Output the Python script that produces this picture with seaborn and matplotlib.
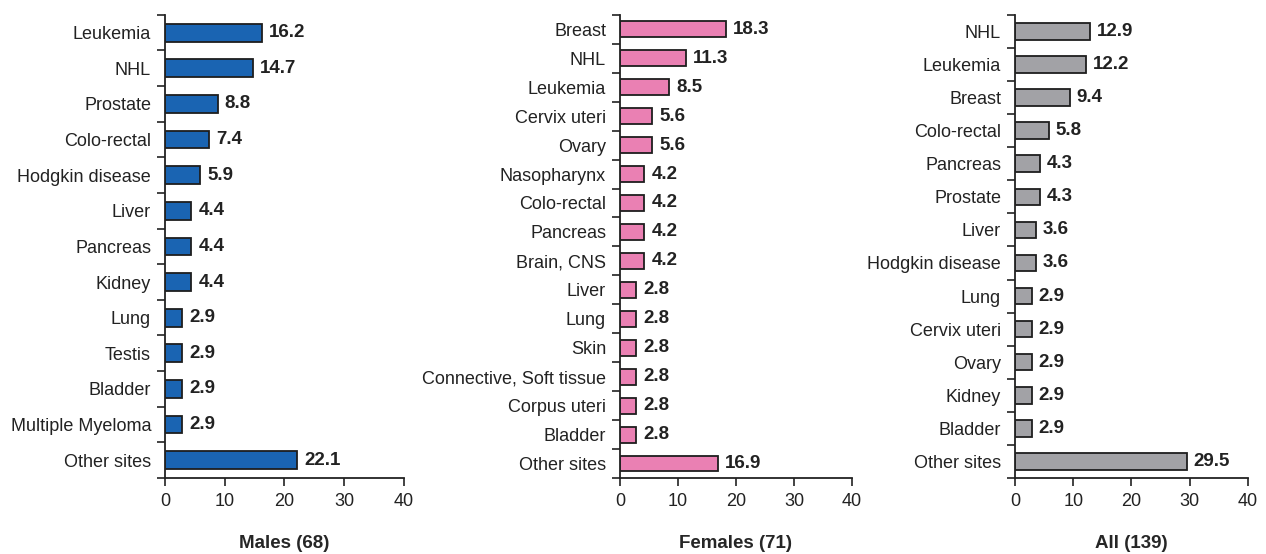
import numpy as np
import pandas as pd
import matplotlib
matplotlib.use("Agg")
import matplotlib.pyplot as plt
from matplotlib.ticker import FixedLocator
import seaborn as sns

males_sites = ["Leukemia", "NHL", "Prostate", "Colo-rectal", "Hodgkin disease", "Liver",
               "Pancreas", "Kidney", "Lung", "Testis", "Bladder", "Multiple Myeloma", "Other sites"]
males_pct = [16.2, 14.7, 8.8, 7.4, 5.9, 4.4, 4.4, 4.4, 2.9, 2.9, 2.9, 2.9, 22.1]

females_sites = ["Breast", "NHL", "Leukemia", "Cervix uteri", "Ovary", "Nasopharynx", "Colo-rectal",
                 "Pancreas", "Brain, CNS", "Liver", "Lung", "Skin", "Connective, Soft tissue",
                 "Corpus uteri", "Bladder", "Other sites"]
females_pct = [18.3, 11.3, 8.5, 5.6, 5.6, 4.2, 4.2, 4.2, 4.2, 2.8, 2.8, 2.8, 2.8, 2.8, 2.8, 16.9]

all_sites = ["NHL", "Leukemia", "Breast", "Colo-rectal", "Pancreas", "Prostate", "Liver",
             "Hodgkin disease", "Lung", "Cervix uteri", "Ovary", "Kidney", "Bladder", "Other sites"]
all_pct = [12.9, 12.2, 9.4, 5.8, 4.3, 4.3, 3.6, 3.6, 2.9, 2.9, 2.9, 2.9, 2.9, 29.5]

titles = ["Males (68)", "Females (71)", "All (139)"]

sns.set_style("white")
plt.rcParams["font.family"] = ["Liberation Sans Narrow", "Liberation Sans", "DejaVu Sans"]

fig = plt.figure(figsize=(12.66, 5.54), dpi=100)
boxes = [(0.1303, 0.1372, 0.1888, 0.836),
         (0.4897, 0.1372, 0.1833, 0.836),
         (0.8017, 0.1372, 0.1840, 0.836)]
panels = [(males_sites, males_pct, "#1a64b2", 0.5),
          (females_sites, females_pct, "#ea80b3", 0.55),
          (all_sites, all_pct, "#a2a2a6", 0.5)]

for box, (sites, pct, color, bw), title in zip(boxes, panels, titles):
    ax = fig.add_axes(box)
    df = pd.DataFrame({"site": sites, "pct": pct})
    sns.barplot(data=df, x="pct", y="site", orient="h", color=color, width=bw,
                edgecolor="#1e1e1e", linewidth=1.3, saturation=1, ax=ax)
    n = len(sites)
    ax.set_xlim(0, 40)
    ax.set_ylim(n - 0.5, -0.5)
    ax.set_xticks([0, 10, 20, 30, 40])
    ax.tick_params(axis="x", bottom=True, labelsize=13, length=6, width=1.2,
                   direction="out", colors="#222222", pad=5)
    ax.tick_params(axis="y", which="major", left=True, length=0, labelsize=13, pad=10,
                   colors="#222222")
    ax.yaxis.set_minor_locator(FixedLocator(np.arange(-0.5, n, 1.0)))
    ax.tick_params(axis="y", which="minor", left=True, length=6, width=1.2,
                   direction="out", color="#222222")
    for s in ["top", "right"]:
        ax.spines[s].set_visible(False)
    for s in ["left", "bottom"]:
        ax.spines[s].set_color("#222222")
        ax.spines[s].set_linewidth(1.3)
    ax.set_ylabel("")
    ax.set_xlabel(title, fontsize=13.5, fontweight="bold", labelpad=18)
    for i, v in enumerate(pct):
        ax.text(v + 1.2, i, f"{v:.1f}", va="center", ha="left", fontsize=13.5,
                fontweight="bold", color="#222222")

fig.savefig("out.png", dpi=100)
